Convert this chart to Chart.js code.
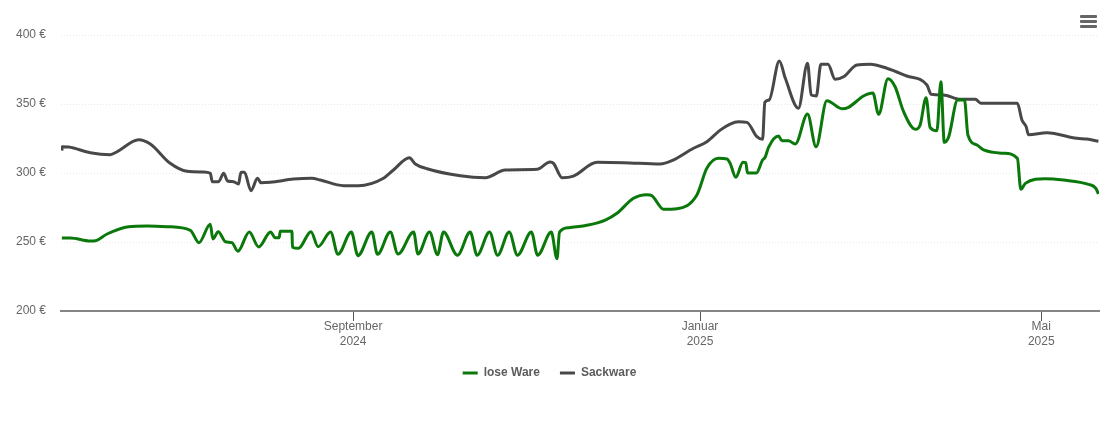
<!DOCTYPE html>
<html lang="de">
<head>
<meta charset="utf-8">
<title>Preisverlauf</title>
<script src="https://cdn.jsdelivr.net/npm/chart.js@4"></script>
<style>
  body { margin: 0; background: #fff; }
  .wrap { position: relative; width: 1110px; height: 422px; }
  .menu { position: absolute; left: 1080px; top: 15px; width: 17px; }
  .menu span { display: block; height: 2.6px; margin-bottom: 2.4px; background: #666; border-radius: 1px; }
</style>
</head>
<body>
<div class="wrap">
  <canvas id="priceChart" width="1110" height="422"></canvas>
  <div class="menu"><span></span><span></span><span></span></div>
</div>
<script>
// days counted from 21 May 2024
const looseDays = [
  0.6, 3.6, 10.6, 12.4, 16.5, 24, 30.6, 37.7, 45.8, 48.8, 52.8, 53.7, 55.6, 58.1, 60.4, 62.5,
  66.5, 69.8, 74, 75.6, 77, 77.4, 81.5, 81.7, 83.8, 88.2, 90.7, 95.1, 97.7, 102.4, 104.7,
  109.6, 111.6, 116.1, 118.8, 124.3, 125.8, 129.9, 132.7, 134.8, 139.7, 144.2, 146.6, 151,
  153.8, 157.9, 160.8, 165.7, 167.9, 172.7, 174.7, 175.6, 178.8, 185.2, 191.7, 195.8, 201.6,
  206.3, 208.1, 212.2, 216.9, 223.9, 227.4, 231.5, 234.5, 235.6, 237.6, 240.1, 241.1, 241.7,
  244.8, 247, 247.9, 249.1, 252.6, 253.8, 256.1, 258.5, 262.8, 265.8, 269.6, 274.9, 277.2,
  282.5, 285.8, 287.8, 291.1, 293.6, 296.6, 300.7, 302.4, 304.5, 305.9, 308.3, 309.7, 310.9,
  312.4, 315.6, 318, 319.2, 322.4, 324.7, 331.7, 336.6, 337.8, 339.4, 346.4, 352.8, 361.6,
  364.2, 365.1,
];
const looseValues = [
  252.9, 252.9, 250.7, 250.9, 255.8, 261.1, 261.6, 261.1, 258.5, 249.5, 262.8, 252.2, 257.5, 250.2, 249.5, 243.3,
  257.2, 246.4, 257.2, 253.1, 253.1, 257.7, 257.7, 246.2, 245.4, 257.5, 246.6, 257.2, 241.1, 257.2, 240.1,
  257.2, 241.1, 257.2, 241.3, 257.2, 241.3, 257.2, 240.8, 257.2, 240.4, 257.2, 240.4, 257.2,
  240.4, 257.2, 240.4, 257.2, 240.4, 257.2, 237.9, 257.2, 260.4, 262.1, 265.9, 270.8, 281.7,
  284.3, 283.5, 273.7, 274.1, 284.1, 303.4, 310.6, 310.1, 307, 296.9, 307.7, 307.5, 300,
  300, 309.4, 311.4, 318.6, 326.8, 323.4, 323.4, 321, 342.7, 319, 352.4, 346.6, 347.6,
  355.8, 358, 342.5, 368.3, 362.5, 344.4, 331.7, 334.8, 354.6, 333.1, 330.6, 366.2, 322.2,
  325.9, 352.9, 352.9, 327.5, 320.3, 316.7, 314.3, 310.6, 288.2, 292.5, 295.9, 294.9, 291.8,
  288.9, 284.8,
];

const sackDays = [
  0.6, 0.7, 3, 10.6, 17.6, 20, 27.6, 31.7, 38.7, 44.6, 50.4, 52.8, 53.5, 55.7, 57.5, 58.9, 61,
  62.7, 63.6, 64.8, 67.1, 69.4, 70.6, 73.9, 82.1, 88.5, 91.5, 99.7, 104.9, 113.7, 117.2, 122.8,
  124.9, 129, 140.7, 149.5, 156.5, 167.7, 172.3, 173.5, 176.5, 180.5, 188.8, 198.1, 211, 215.1,
  222.7, 227.4, 232.1, 235.6, 238.5, 241.5, 245, 247, 247.8, 249.3, 252.9, 255, 259.6, 262.8,
  264.1, 265.9, 267.5, 270, 272.5, 275.5, 280.2, 284.8, 290.7, 297.7, 304.8, 306.3, 310.6, 316.5, 321.8,
  323.8, 336.6, 338.2, 339.7, 340.5, 347, 357.5, 361, 365.1,
];
const sackValues = [
  316.2, 319, 318.8, 314.7, 313.3, 315.4, 324.1, 321, 307, 301.2, 300.7, 299.8, 293.7, 293.7, 299.8, 294.2, 293.7,
  292, 300.5, 300.5, 287.2, 296.2, 293, 293.3, 295.6, 296.2, 294.9, 290.8, 290.8, 296.2, 302.2, 311.1,
  306.5, 303.1, 298, 296.6, 302.2, 302.7, 308, 307, 296.6, 297.8, 307.7, 307.5, 306.5, 308.9,
  317.9, 322.7, 331.1, 335.5, 337.2, 336.7, 326.3, 324.4, 351.2, 352.9, 381.2, 368.6, 346.9, 379.5,
  356.5, 355.8, 378.8, 378.8, 367.9, 369.8, 378.3, 378.8, 375.9, 370.3, 363.8, 357, 356.5, 353.4, 353.4,
  350.5, 350.5, 338.4, 333.5, 327.7, 329.2, 325.1, 324.6, 323,
];

// tick positions on the day axis: 1 Sep 2024, 1 Jan 2025, 1 May 2025
const tickDays = [103, 225, 345];
const tickLabels = [['September', '2024'], ['Januar', '2025'], ['Mai', '2025']];

const toPoints = (days, values) => days.map((day, i) => ({ x: day, y: values[i] }));

const fontFamily = '"Liberation Sans", Arial, sans-serif';

new Chart(document.getElementById('priceChart'), {
  type: 'line',
  data: {
    datasets: [
      {
        label: 'lose Ware',
        data: toPoints(looseDays, looseValues),
        borderColor: '#0a780a',
        backgroundColor: '#0a780a',
        borderWidth: 3,
        pointRadius: 0,
        cubicInterpolationMode: 'monotone',
      },
      {
        label: 'Sackware',
        data: toPoints(sackDays, sackValues),
        borderColor: '#484848',
        backgroundColor: '#484848',
        borderWidth: 3,
        pointRadius: 0,
        cubicInterpolationMode: 'monotone',
      },
    ],
  },
  options: {
    responsive: false,
    animation: false,
    layout: { padding: { top: 35, right: 11, bottom: 33, left: 0 } },
    plugins: {
      tooltip: { enabled: false },
      legend: {
        position: 'bottom',
        labels: {
          usePointStyle: true,
          pointStyle: 'line',
          pointStyleWidth: 15,
          padding: 20,
          color: '#5c5c5c',
          font: { family: fontFamily, size: 12, weight: 'bold' },
        },
      },
    },
    scales: {
      x: {
        type: 'linear',
        min: 0.3,
        max: 365.3,
        afterBuildTicks: (scale) => {
          scale.ticks = tickDays.map((value) => ({ value }));
        },
        afterFit: (scale) => { scale.height = 36; },
        grid: { drawOnChartArea: false, color: '#555', tickLength: 10 },
        border: { color: '#858585', width: 2 },
        ticks: {
          autoSkip: false,
          maxRotation: 0,
          padding: -2,
          color: '#666',
          font: { family: fontFamily, size: 12, lineHeight: 1.25 },
          callback: (value) => tickLabels[tickDays.indexOf(value)],
        },
      },
      y: {
        min: 200,
        max: 400,
        afterFit: (scale) => { scale.width = 61; },
        grid: { color: '#e8e8e8', drawTicks: false },
        border: { display: false, dash: [1, 2] },
        ticks: {
          stepSize: 50,
          padding: 15,
          color: '#666',
          font: { family: fontFamily, size: 12 },
          callback: (value) => `${value} €`,
        },
      },
    },
  },
});
</script>
</body>
</html>
